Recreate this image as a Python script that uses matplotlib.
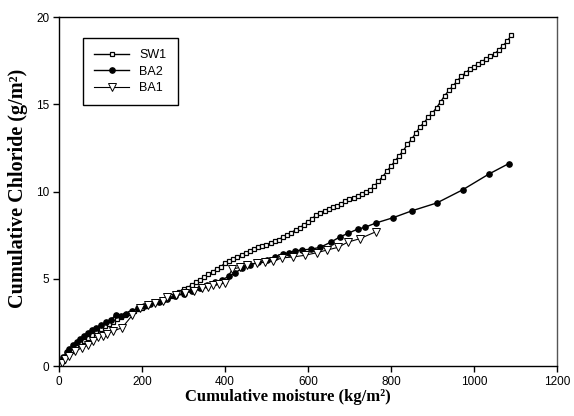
import numpy as np
import matplotlib.pyplot as plt

# SW1 - dense open square markers
sw1_x = [0, 10, 20, 30, 40, 50, 60, 70, 80, 90, 100, 110, 120, 130, 140, 150,
         160, 170, 180, 190, 200, 210, 220, 230, 240, 250, 260, 270, 280, 290,
         300, 310, 320, 330, 340, 350, 360, 370, 380, 390, 400, 410, 420, 430,
         440, 450, 460, 470, 480, 490, 500, 510, 520, 530, 540, 550, 560, 570,
         580, 590, 600, 610, 620, 630, 640, 650, 660, 670, 680, 690, 700, 710,
         720, 730, 740, 750, 760, 770, 780, 790, 800, 810, 820, 830, 840, 850,
         860, 870, 880, 890, 900, 910, 920, 930, 940, 950, 960, 970, 980, 990,
         1000, 1010, 1020, 1030, 1040, 1050, 1060, 1070, 1080, 1090]
sw1_y = [0, 0.3, 0.6, 0.85, 1.1, 1.3, 1.45, 1.6, 1.8, 2.0, 2.15, 2.3, 2.4, 2.55,
         2.7, 2.8, 2.95, 3.05, 3.15, 3.25, 3.35, 3.45, 3.55, 3.65, 3.7, 3.8, 3.9,
         4.0, 4.15, 4.25, 4.4, 4.5, 4.65, 4.8, 4.95, 5.1, 5.25, 5.4, 5.55, 5.7,
         5.9, 6.0, 6.15, 6.25, 6.35, 6.5, 6.6, 6.7, 6.8, 6.9, 6.95, 7.05, 7.15,
         7.25, 7.4, 7.5, 7.65, 7.8, 7.9, 8.1, 8.25, 8.45, 8.65, 8.8, 8.9, 9.0,
         9.1, 9.2, 9.3, 9.45, 9.55, 9.65, 9.75, 9.85, 9.95, 10.1, 10.3, 10.6,
         10.85, 11.15, 11.45, 11.75, 12.05, 12.35, 12.7, 13.0, 13.35, 13.7, 13.95,
         14.25, 14.5, 14.8, 15.15, 15.5, 15.8, 16.05, 16.35, 16.6, 16.8, 17.0,
         17.15, 17.3, 17.45, 17.6, 17.75, 17.9, 18.1, 18.35, 18.6, 18.95]

# BA2 - filled circles
ba2_x = [0, 5, 10, 18, 25, 33, 42, 50, 60, 70, 80, 90, 100, 112, 125, 137, 150,
         162, 175, 190, 205, 220, 240, 260, 280, 300, 320, 340, 357, 375, 393, 410,
         425, 441, 460, 480, 501, 520, 540, 555, 569, 585, 607, 629, 655, 677, 696,
         720, 737, 764, 805, 851, 911, 973, 1036, 1084]
ba2_y = [0, 0.3, 0.5, 0.8, 1.0, 1.2, 1.4, 1.55, 1.75, 1.9, 2.05, 2.2, 2.35, 2.5,
         2.65, 2.95, 2.85, 3.0, 3.15, 3.3, 3.45, 3.55, 3.7, 3.85, 4.0, 4.15, 4.3,
         4.45, 4.65, 4.8, 4.95, 5.15, 5.35, 5.6, 5.8, 5.95, 6.1, 6.25, 6.4, 6.5, 6.6,
         6.65, 6.7, 6.8, 7.1, 7.4, 7.6, 7.85, 7.95, 8.2, 8.5, 8.9, 9.35, 10.1, 11.0,
         11.6]

# BA1 - open down triangles
ba1_x = [0, 7, 15, 25, 39, 55, 70, 82, 94, 105, 116, 130, 152, 176, 195, 214, 231,
         250, 260, 282, 304, 325, 345, 360, 371, 385, 400, 417, 435, 453, 477, 497,
         516, 537, 564, 593, 622, 646, 672, 696, 725, 764]
ba1_y = [0, 0.2, 0.4, 0.6, 0.86, 1.05, 1.2, 1.45, 1.65, 1.75, 1.85, 2.0, 2.2, 2.9,
         3.3, 3.5, 3.6, 3.75, 3.95, 4.05, 4.2, 4.3, 4.45, 4.55, 4.65, 4.7, 4.75,
         5.55, 5.65, 5.8, 5.9, 5.95, 6.0, 6.2, 6.25, 6.35, 6.5, 6.65, 6.8, 7.1, 7.3,
         7.7]

fig = plt.figure(figsize=(5.74, 4.16), dpi=100)
ax = fig.add_axes([0.103, 0.12, 0.867, 0.839])

ax.plot(sw1_x, sw1_y, color="black", lw=1, marker="s", ms=3.4,
        mfc="white", mec="black", mew=0.9, label="SW1")
ax.plot(ba2_x, ba2_y, color="black", lw=1, marker="o", ms=3.8,
        mfc="black", mec="black", label="BA2")
ax.plot(ba1_x, ba1_y, color="black", lw=0.8, marker="v", ms=5.2,
        mfc="white", mec="black", mew=0.7, label="BA1")

ax.set_xlim(0, 1200)
ax.set_ylim(0, 20)
ax.set_xticks(np.arange(0, 1201, 200))
ax.set_yticks(np.arange(0, 21, 5))
ax.tick_params(direction="out", length=4, width=1, labelsize=8.5, pad=3)
for lab in ax.get_xticklabels() + ax.get_yticklabels():
    lab.set_family("Liberation Sans")

for s in ax.spines.values():
    s.set_linewidth(1)
ax.spines["right"].set_color("#555555")

ax.set_xlabel("Cumulative moisture (kg/m²)", family="Liberation Serif",
              fontweight="bold", fontsize=12, labelpad=2)
ax.xaxis.set_label_coords(0.46, -0.065)
ax.set_ylabel("Cumulative Chloride (g/m²)", family="Liberation Serif",
              fontweight="bold", fontsize=14.5)
ax.yaxis.set_label_coords(-0.063, 0.51)

leg = ax.legend(loc="upper left", bbox_to_anchor=(0.048, 0.94),
                fancybox=False, edgecolor="black", framealpha=1,
                prop={"family": "Liberation Sans", "size": 9},
                handlelength=2.8, borderpad=0.9, labelspacing=0.35,
                handletextpad=0.8, borderaxespad=0)
leg.get_frame().set_linewidth(1)

fig.savefig("out.png", dpi=100)
